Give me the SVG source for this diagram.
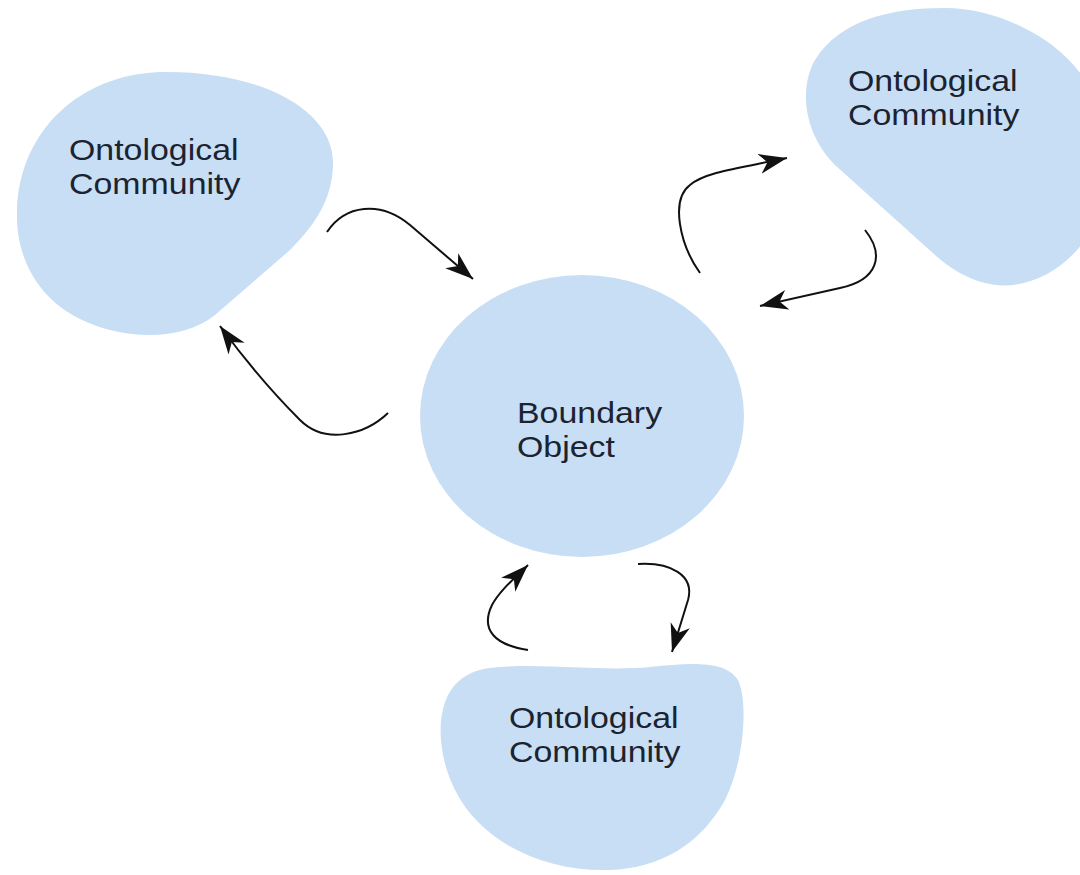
<svg xmlns="http://www.w3.org/2000/svg" width="1080" height="875" viewBox="0 0 1080 875">
<style>
.blob{fill:#c7def5;stroke:none}
.lbl{font-family:"Liberation Sans",Arial,sans-serif;font-size:30px;fill:#1c2330}
.con{fill:none;stroke:#111;stroke-width:2}
</style>
<defs>
<marker id="ah" markerUnits="userSpaceOnUse" markerWidth="32" markerHeight="24" refX="28" refY="10" orient="auto">
<path d="M0,0 L28,10 L0,20 L8,10 Z" fill="#111"/>
</marker>
</defs>
<rect width="1080" height="875" fill="#fff"/>
<g id="community-top-left">
<path class="blob" d="M 160 72 C 260 70, 335 110, 333 165 C 332 200, 315 225, 290 250 L 215 315 C 190 335, 150 340, 110 330 C 50 315, 15 270, 17 210 C 20 130, 80 75, 160 72 Z"/>
<text class="lbl" transform="translate(69,160) scale(1.13,1)">Ontological</text>
<text class="lbl" transform="translate(69,194) scale(1.13,1)">Community</text>
</g>
<g id="community-top-right">
<path class="blob" d="M 945 8 C 1000 8, 1060 40, 1085 80 L 1085 240 C 1060 275, 1020 292, 985 283 C 965 278, 950 268, 935 255 L 835 165 C 805 135, 798 90, 815 60 C 840 20, 890 8, 945 8 Z"/>
<text class="lbl" transform="translate(848,91) scale(1.13,1)">Ontological</text>
<text class="lbl" transform="translate(848,125) scale(1.13,1)">Community</text>
</g>
<g id="boundary-object">
<ellipse class="blob" cx="582" cy="416" rx="162" ry="141"/>
<text class="lbl" transform="translate(517,423) scale(1.13,1)">Boundary</text>
<text class="lbl" transform="translate(517,457) scale(1.13,1)">Object</text>
</g>
<g id="community-bottom">
<path class="blob" d="M 490 668 C 540 662, 600 672, 650 667 C 690 663, 725 660, 738 680 C 748 700, 745 760, 725 800 C 700 845, 660 868, 610 870 C 540 872, 480 840, 455 790 C 435 750, 435 700, 460 680 C 470 672, 480 669, 490 668 Z"/>
<text class="lbl" transform="translate(509,728) scale(1.13,1)">Ontological</text>
<text class="lbl" transform="translate(509,762) scale(1.13,1)">Community</text>
</g>
<g id="connectors">
<path class="con" marker-end="url(#ah)" d="M 327 232 C 345 205, 380 200, 410 225 L 473 279"/>
<path class="con" marker-end="url(#ah)" d="M 388 413 C 365 435, 325 445, 300 420 C 275 395, 245 360, 220 326"/>
<path class="con" marker-end="url(#ah)" d="M 700 273 C 680 245, 670 200, 690 185 C 705 172, 740 168, 787 158"/>
<path class="con" marker-end="url(#ah)" d="M 865 230 C 885 255, 878 280, 840 288 L 760 306"/>
<path class="con" marker-end="url(#ah)" d="M 528 650 C 495 645, 480 630, 492 605 C 500 590, 515 578, 528 565"/>
<path class="con" marker-end="url(#ah)" d="M 638 564 C 670 562, 695 575, 688 600 L 672 652"/>
</g>
</svg>
